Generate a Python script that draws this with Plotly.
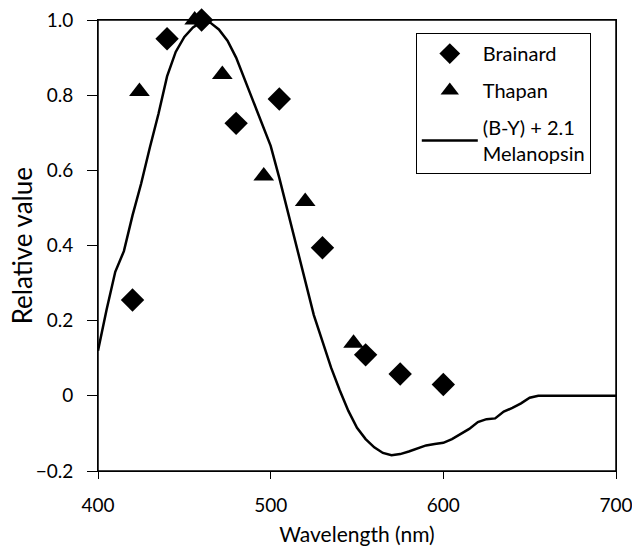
import plotly.graph_objects as go

# Brainard action spectrum (diamonds)
brainard_wl = [420, 440, 460, 480, 505, 530, 555, 575, 600]
brainard_val = [0.255, 0.95, 1.0, 0.725, 0.79, 0.394, 0.109, 0.058, 0.03]

# Thapan action spectrum (triangles)
thapan_wl = [424, 456, 472, 496, 520, 548]
thapan_val = [0.81, 1.0, 0.855, 0.585, 0.517, 0.14]

# (B-Y) + 2.1 Melanopsin model curve
model_wl = [400, 405, 410, 415, 420, 425, 430, 435, 440, 445, 450, 455, 460, 465,
            470, 475, 480, 485, 490, 495, 500, 505, 510, 515, 520, 525, 530, 535,
            540, 545, 550, 555, 560, 565, 570, 575, 580, 585, 590, 595, 600, 605,
            610, 615, 620, 625, 630, 635, 640, 645, 650, 655, 660, 665, 670, 680,
            690, 700]
model_val = [0.12, 0.23, 0.33, 0.385, 0.48, 0.565, 0.66, 0.75, 0.85, 0.915, 0.955,
             0.98, 0.995, 0.993, 0.975, 0.945, 0.9, 0.84, 0.785, 0.725, 0.665,
             0.58, 0.49, 0.40, 0.305, 0.215, 0.145, 0.075, 0.015, -0.04, -0.085,
             -0.115, -0.137, -0.152, -0.158, -0.155, -0.148, -0.14, -0.132,
             -0.128, -0.125, -0.115, -0.102, -0.088, -0.07, -0.062, -0.06, -0.042,
             -0.032, -0.02, -0.005, 0.0, 0.0, 0.0, 0.0, 0.0, 0.0, 0.0]

x_ticks = [400, 500, 600, 700]
y_ticks = [-0.2, 0, 0.2, 0.4, 0.6, 0.8, 1.0]
y_tick_text = ["\u22120.2", "0", "0.2", "0.4", "0.6", "0.8", "1.0"]

FONT = "Lato, 'Open Sans', sans-serif"

fig = go.Figure()
fig.add_trace(go.Scatter(
    x=brainard_wl, y=brainard_val, mode="markers", name="Brainard",
    legendgroup="a",
    marker=dict(symbol="diamond", size=18, color="black"),
    cliponaxis=False,
))
fig.add_trace(go.Scatter(
    x=thapan_wl, y=thapan_val, mode="markers", name="Thapan",
    legendgroup="b",
    marker=dict(symbol="triangle-up", size=18, color="black"),
    cliponaxis=False,
))
fig.add_trace(go.Scatter(
    x=model_wl, y=model_val, mode="lines", name="(B-Y) + 2.1<br>Melanopsin",
    legendgroup="c",
    line=dict(color="black", width=2.5),
))

# plot frame
fig.add_shape(type="rect", xref="paper", yref="paper", x0=0, y0=0, x1=1, y1=1,
              line=dict(color="black", width=1.5), layer="below")

# y axis title
fig.add_annotation(text="Relative value", xref="paper", yref="paper",
                   x=-0.147, y=0.5, xanchor="center", yanchor="middle",
                   textangle=-90, showarrow=False,
                   font=dict(family=FONT, size=26, color="black"))

fig.update_layout(
    width=632, height=548,
    margin=dict(l=98, r=16, t=20, b=77, autoexpand=False),
    paper_bgcolor="white", plot_bgcolor="rgba(0,0,0,0)",
    font=dict(family=FONT, size=16, color="black"),
    showlegend=True,
    legend=dict(
        x=0.6135, y=0.971, xanchor="left", yanchor="top",
        bordercolor="black", borderwidth=1, bgcolor="white",
        traceorder="grouped", tracegroupgap=8,
        font=dict(family=FONT, size=20, color="black"),
        itemwidth=56,
    ),
    xaxis=dict(
        range=[400, 700], tickvals=x_ticks, ticks="outside", ticklen=7,
        tickcolor="black", showline=True, linecolor="black", linewidth=1,
        mirror=True, showgrid=False, zeroline=False, automargin=False,
        title=dict(text="Wavelength (nm)", font=dict(size=21), standoff=12),
        tickfont=dict(size=19), ticklabelstandoff=10,
        ticklabeloverflow="allow",
    ),
    yaxis=dict(
        range=[-0.2, 1.0], tickvals=y_ticks, ticktext=y_tick_text,
        ticks="outside", ticklen=10,
        tickcolor="black", showline=True, linecolor="black", linewidth=1,
        mirror=True, showgrid=False, zeroline=False, automargin=False,
        tickfont=dict(size=19),
        ticklabelstandoff=10, ticklabeloverflow="allow",
    ),
)

fig.write_html(
    "out.html",
    config={"displayModeBar": False},
    post_script="document.body.style.margin='0';document.body.style.overflow='hidden';",
)
